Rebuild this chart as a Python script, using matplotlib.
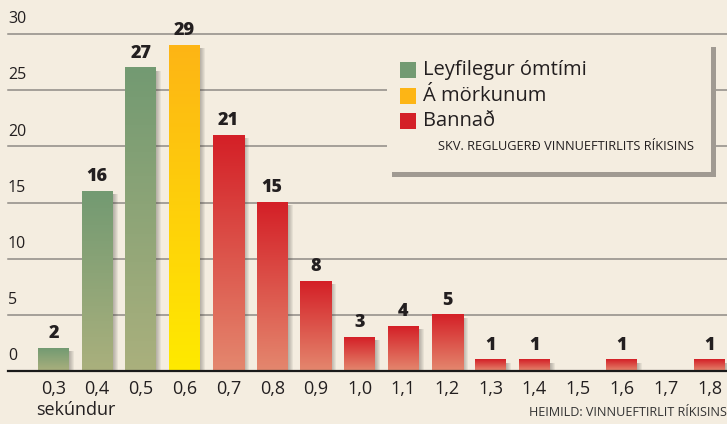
import matplotlib
matplotlib.use("Agg")
import matplotlib.pyplot as plt
import numpy as np
from matplotlib.colors import LinearSegmentedColormap
from matplotlib.patches import Rectangle

plt.rcParams['font.family'] = ['Open Sans', 'DejaVu Sans']

# data
categories = ["0,3", "0,4", "0,5", "0,6", "0,7", "0,8", "0,9", "1,0",
              "1,1", "1,2", "1,3", "1,4", "1,5", "1,6", "1,7", "1,8"]
values = [2, 16, 27, 29, 21, 15, 8, 3, 4, 5, 1, 1, 0, 1, 0, 1]
groups = ["ok", "ok", "ok", "edge"] + ["bad"] * 12
yticks = [0, 5, 10, 15, 20, 25, 30]
legend_labels = ["Leyfilegur ómtími", "Á mörkunum", "Bannað"]

BG = "#F4EDE0"
W, H = 727, 424
grad = {
    "ok": ("#739A72", "#AAB07D"),
    "edge": ("#FDB515", "#FFEA00"),
    "bad": ("#D42027", "#E4876E"),
}
legend_colors = ["#739A72", "#FDB515", "#D42027"]

fig = plt.figure(figsize=(W / 100, H / 100), dpi=100, facecolor=BG)
ax = fig.add_axes([0, 0, 1, 1])
ax.set_facecolor(BG)
ax.axis("off")

# pixel -> data mapping
xs = 43.73   # px per category
x0 = 53.5    # px of first bar center
ys = 337 / 30.0
y0 = 371
ax.set_xlim(-x0 / xs, (W - x0) / xs)
ax.set_ylim(-(H - y0) / ys, y0 / ys)

def fx(px):
    return px / W

def fy(py):
    return 1 - py / H

# gridlines
left = (8 - x0) / xs
for t in yticks[1:]:
    ax.plot([left, ax.get_xlim()[1]], [t, t], color="#8F8B85", lw=1.1, zorder=1)
    ax.text(left, t + 0.6, str(t), fontsize=11.5, color="#231F20",
            ha="left", va="bottom", zorder=5)
ax.text(left, 0.6, "0", fontsize=11.5, color="#231F20", ha="left", va="bottom")

x = np.arange(len(categories))
bw = 31 / xs
bars = ax.bar(x, values, width=bw, color="none", edgecolor="none", zorder=3)

# shadows + gradients
dpx = 1 / xs
for rect, v, g in zip(bars, values, groups):
    if v == 0:
        continue
    bx, bwid, bh = rect.get_x(), rect.get_width(), rect.get_height()
    for k in range(1, 6):
        ax.add_patch(Rectangle((bx + k * dpx, 0), bwid, bh - 0.25,
                               facecolor="#3a3530", alpha=0.07, lw=0, zorder=2))
    cmap = LinearSegmentedColormap.from_list("g", [grad[g][1], grad[g][0]])
    img = np.linspace(0, 1, 100).reshape(-1, 1)
    ax.imshow(img, cmap=cmap, extent=(bx, bx + bwid, 0, bh), origin="lower",
              aspect="auto", zorder=3)
    ax.text(rect.get_x() + bwid / 2, bh + 0.55, str(v), ha="center", va="bottom",
            fontsize=13, fontweight="heavy", color="#231F20", zorder=5)

ax.set_xlim(-x0 / xs, (W - x0) / xs)
ax.set_ylim(-(H - y0) / ys, y0 / ys)

# baseline
ax.plot([left, ax.get_xlim()[1]], [0, 0], color="#1a1a1a", lw=1.6, zorder=4)

# x tick labels
for i, c in enumerate(categories):
    ax.text(i, -1.6, c, ha="center", va="center", fontsize=13, color="#231F20")
fig.text(fx(76), fy(410), "sekúndur", ha="center", va="center", fontsize=13,
         color="#231F20")
fig.text(fx(727), fy(412), "HEIMILD: VINNUEFTIRLIT RÍKISINS", ha="right",
         va="center", fontsize=9.1, color="#333333")

# legend box
fig.patches.append(Rectangle((fx(392), fy(177)), fx(324), 130 / H,
                             transform=fig.transFigure, facecolor="#A09A92",
                             lw=0, zorder=5))
fig.patches.append(Rectangle((fx(387), fy(172)), fx(324), 126 / H,
                             transform=fig.transFigure, facecolor=BG,
                             lw=0, zorder=6))
rows = [70, 96, 121]
for r, lab, col in zip(rows, legend_labels, legend_colors):
    fig.patches.append(Rectangle((fx(400), fy(r + 8)), fx(16), 16 / H,
                                 transform=fig.transFigure, facecolor=col,
                                 lw=0, zorder=7))
    fig.text(fx(423), fy(r), lab, ha="left", va="center", fontsize=14.5,
             color="#231F20", zorder=8)
fig.text(fx(694), fy(147), "SKV. REGLUGERÐ VINNUEFTIRLITS RÍKISINS", ha="right",
         va="center", fontsize=9.2, color="#231F20", zorder=8)

fig.savefig("out.png", dpi=100, facecolor=BG)
